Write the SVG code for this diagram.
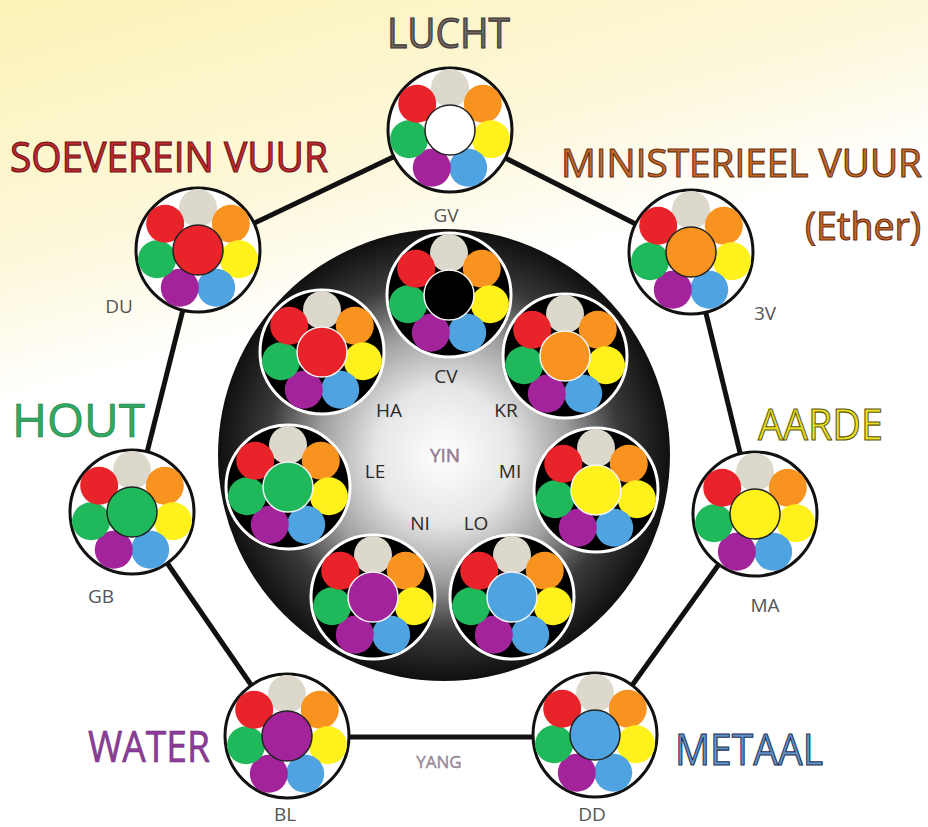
<svg xmlns="http://www.w3.org/2000/svg" xmlns:xlink="http://www.w3.org/1999/xlink" width="928" height="827" viewBox="0 0 928 827">
<defs>
<linearGradient id="bg" x1="0" y1="0" x2="0.3" y2="1">
<stop offset="0" stop-color="#fbf2b6"/>
<stop offset="0.3" stop-color="#fdf8dc"/>
<stop offset="0.45" stop-color="#ffffff"/>
<stop offset="1" stop-color="#ffffff"/>
</linearGradient>
<radialGradient id="disk" cx="0.5" cy="0.5" r="0.5">
<stop offset="0" stop-color="#ffffff"/>
<stop offset="0.3" stop-color="#e6e6e6"/>
<stop offset="0.55" stop-color="#a0a0a0"/>
<stop offset="0.78" stop-color="#3a3a3a"/>
<stop offset="1" stop-color="#101010"/>
</radialGradient>
<g id="sats">
<circle cx="0" cy="-42" r="19" fill="#ddd8cc"/>
<circle cx="32.8" cy="-26.2" r="19" fill="#f7931e"/>
<circle cx="40.9" cy="9.3" r="19" fill="#fff21c"/>
<circle cx="18.2" cy="37.8" r="19" fill="#4fa3e0"/>
<circle cx="-18.2" cy="37.8" r="19" fill="#a3239b"/>
<circle cx="-40.9" cy="9.3" r="19" fill="#1fb85a"/>
<circle cx="-32.8" cy="-26.2" r="19" fill="#e8242a"/>
</g>
</defs>
<style>
.outer{fill:#ffffff;stroke:#111;stroke-width:3}
.inner{fill:#000;stroke:#fff;stroke-width:3}
.so circle{stroke:#222;stroke-width:1.5}
.si circle{stroke:#f4f4f4;stroke-width:1.5}
.cso{stroke:#222;stroke-width:1.5}
.csi{stroke:#f4f4f4;stroke-width:1.5}
.edge{stroke:#111;stroke-width:5;fill:none}
.title{font-family:"Open Sans","Noto Sans",sans-serif}
.lbl{font-family:"Open Sans","Noto Sans",sans-serif;font-size:19px;text-anchor:middle}
</style>
<rect x="0" y="0" width="928" height="827" fill="url(#bg)"/>
<g id="connectors">
<line class="edge" x1="450" y1="130" x2="691" y2="252"/>
<line class="edge" x1="691" y1="252" x2="755" y2="514"/>
<line class="edge" x1="755" y1="514" x2="595" y2="737"/>
<line class="edge" x1="595" y1="737" x2="287" y2="737"/>
<line class="edge" x1="287" y1="737" x2="132" y2="512"/>
<line class="edge" x1="132" y1="512" x2="198" y2="250"/>
<line class="edge" x1="198" y1="250" x2="450" y2="130"/>
</g>
<g id="center-disk">
<circle cx="444" cy="455" r="226" fill="url(#disk)"/>
</g>
<g id="node-GV" transform="translate(450,130)">
<circle class="outer" r="62"/><g class="so"><use xlink:href="#sats"/></g><circle class="cso" r="25" fill="#ffffff"/>
</g>
<g id="node-DU" transform="translate(198,250)">
<circle class="outer" r="62"/><g class="so"><use xlink:href="#sats"/></g><circle class="cso" r="25" fill="#e8242a"/>
</g>
<g id="node-3V" transform="translate(691,252)">
<circle class="outer" r="62"/><g class="so"><use xlink:href="#sats"/></g><circle class="cso" r="25" fill="#f7931e"/>
</g>
<g id="node-GB" transform="translate(132,512)">
<circle class="outer" r="62"/><g class="so"><use xlink:href="#sats"/></g><circle class="cso" r="25" fill="#1fb85a"/>
</g>
<g id="node-MA" transform="translate(755,514)">
<circle class="outer" r="62"/><g class="so"><use xlink:href="#sats"/></g><circle class="cso" r="25" fill="#fff21c"/>
</g>
<g id="node-BL" transform="translate(287,736)">
<circle class="outer" r="62"/><g class="so"><use xlink:href="#sats"/></g><circle class="cso" r="25" fill="#a3239b"/>
</g>
<g id="node-DD" transform="translate(595,735)">
<circle class="outer" r="62"/><g class="so"><use xlink:href="#sats"/></g><circle class="cso" r="25" fill="#4fa3e0"/>
</g>
<g id="node-CV" transform="translate(449,295)">
<circle class="inner" r="62"/><g class="si"><use xlink:href="#sats"/></g><circle class="csi" r="25" fill="#000000"/>
</g>
<g id="node-HA" transform="translate(322,352)">
<circle class="inner" r="62"/><g class="si"><use xlink:href="#sats"/></g><circle class="csi" r="25" fill="#e8242a"/>
</g>
<g id="node-KR" transform="translate(565,356)">
<circle class="inner" r="62"/><g class="si"><use xlink:href="#sats"/></g><circle class="csi" r="25" fill="#f7931e"/>
</g>
<g id="node-LE" transform="translate(288,487)">
<circle class="inner" r="62"/><g class="si"><use xlink:href="#sats"/></g><circle class="csi" r="25" fill="#1fb85a"/>
</g>
<g id="node-MI" transform="translate(596,490)">
<circle class="inner" r="62"/><g class="si"><use xlink:href="#sats"/></g><circle class="csi" r="25" fill="#fff21c"/>
</g>
<g id="node-NI" transform="translate(373,597)">
<circle class="inner" r="62"/><g class="si"><use xlink:href="#sats"/></g><circle class="csi" r="25" fill="#a3239b"/>
</g>
<g id="node-LO" transform="translate(512,597)">
<circle class="inner" r="62"/><g class="si"><use xlink:href="#sats"/></g><circle class="csi" r="25" fill="#4fa3e0"/>
</g>
<g id="titles">
<text class="title" x="387" y="48" font-size="42" textLength="123" lengthAdjust="spacingAndGlyphs" style="fill:#6e6662;stroke:#3a3330;stroke-width:1.1">LUCHT</text>
<text class="title" x="10" y="172" font-size="42" textLength="318" lengthAdjust="spacingAndGlyphs" style="fill:#c0282c;stroke:#6a1418;stroke-width:1.1">SOEVEREIN VUUR</text>
<text class="title" x="561" y="177" font-size="39" textLength="361" lengthAdjust="spacingAndGlyphs" style="fill:#c4692a;stroke:#6a3212;stroke-width:1.1">MINISTERIEEL VUUR</text>
<text class="title" x="805" y="240" font-size="38" textLength="116" lengthAdjust="spacingAndGlyphs" style="fill:#c4692a;stroke:#6a3212;stroke-width:1.1">(Ether)</text>
<text class="title" x="12" y="437" font-size="46" textLength="133" lengthAdjust="spacingAndGlyphs" style="fill:#30aa62;stroke:#1d7a44;stroke-width:0.6">HOUT</text>
<text class="title" x="758" y="440" font-size="44" textLength="125" lengthAdjust="spacingAndGlyphs" style="fill:#e6df22;stroke:#5e5812;stroke-width:1.1">AARDE</text>
<text class="title" x="88" y="762" font-size="44" textLength="122" lengthAdjust="spacingAndGlyphs" style="fill:#8e3c9a;stroke:#6a2a78;stroke-width:0.6">WATER</text>
<text class="title" x="675" y="765" font-size="44" textLength="148" lengthAdjust="spacingAndGlyphs" style="fill:#6092c8;stroke:#1e3050;stroke-width:1.1">METAAL</text>
</g>
<g id="labels">
<text class="lbl" x="446" y="222" style="fill:#555">GV</text>
<text class="lbl" x="119" y="313" style="fill:#555">DU</text>
<text class="lbl" x="765" y="320" style="fill:#555">3V</text>
<text class="lbl" x="101" y="603" style="fill:#555">GB</text>
<text class="lbl" x="765" y="612" style="fill:#555">MA</text>
<text class="lbl" x="285" y="821" style="fill:#555">BL</text>
<text class="lbl" x="592" y="821" style="fill:#555">DD</text>
<text class="lbl" x="439" y="768" style="fill:#a08ea2;stroke:#8a7a8a;stroke-width:0.4;font-size:17px">YANG</text>
<text class="lbl" x="446" y="383" style="fill:#2a2a2a">CV</text>
<text class="lbl" x="389" y="417" style="fill:#2a2a2a">HA</text>
<text class="lbl" x="506" y="417" style="fill:#2a2a2a">KR</text>
<text class="lbl" x="445" y="462" style="fill:#a0849a;stroke:#8a6a80;stroke-width:0.5">YIN</text>
<text class="lbl" x="375" y="478" style="fill:#2a2a2a">LE</text>
<text class="lbl" x="510" y="478" style="fill:#2a2a2a">MI</text>
<text class="lbl" x="420" y="530" style="fill:#2a2a2a">NI</text>
<text class="lbl" x="476" y="530" style="fill:#2a2a2a">LO</text>
</g>
</svg>
